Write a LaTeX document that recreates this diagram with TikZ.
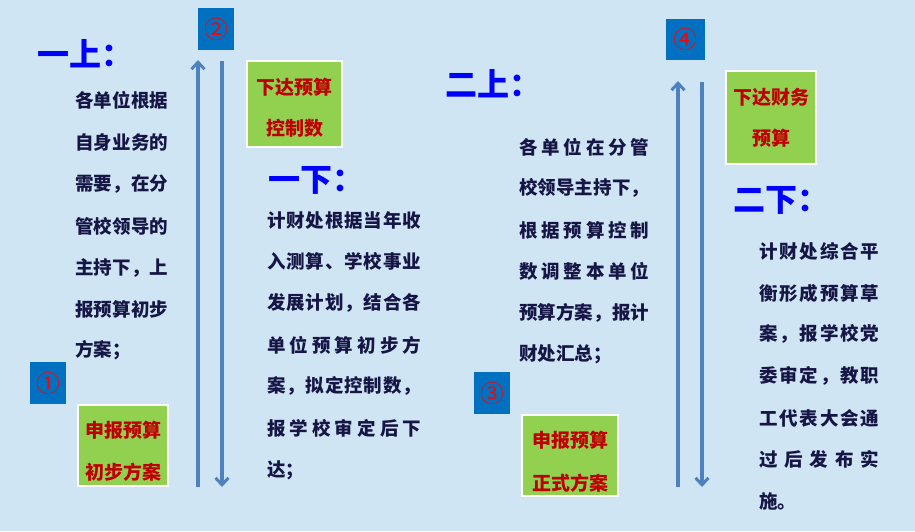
\documentclass[tikz,border=0pt]{standalone}
\usepackage{fontspec}
\newfontfamily\cjk{Noto Sans CJK SC}
\usetikzlibrary{arrows.meta}
\definecolor{bg}{RGB}{208,229,244}
\definecolor{numbox}{RGB}{0,112,192}
\definecolor{greenbox}{RGB}{146,208,80}
\definecolor{redtxt}{RGB}{192,0,0}
\definecolor{arrowc}{RGB}{79,129,189}
\definecolor{bodytxt}{RGB}{22,22,70}
\definecolor{headc}{RGB}{0,0,255}
\def\myjust#1#2{\hbox to #1{\myjustA#2\relax}}
\def\myjustA#1{#1\myjustB}
\def\myjustB#1{\ifx#1\relax\else\hfil#1\expandafter\myjustB\fi}
\tikzset{
  body/.style={anchor=west,inner sep=0pt,text=bodytxt,font=\cjk\bfseries\fontsize{18.5}{18.5}\selectfont},
  head/.style={anchor=west,inner sep=0pt,text=headc,font=\cjk\bfseries\fontsize{32}{32}\selectfont},
  numb/.style={fill=numbox,draw=none,inner sep=0pt,text=red,font=\cjk\fontsize{24}{24}\selectfont},
  gbox/.style={fill=greenbox,draw=white,line width=1.5pt,inner sep=0pt},
  gtxt/.style={inner sep=0pt,text=redtxt,font=\cjk\bfseries\fontsize{19}{19}\selectfont},
  arr/.style={draw=arrowc,line width=3.6pt,-{Straight Barb[length=7pt,width=13pt,line width=3pt]}},
}
\begin{document}
\begin{tikzpicture}[x=1pt,y=-1pt]
\fill[bg] (0,0) rectangle (915,531);
\useasboundingbox (0,0) rectangle (915,531);

% number boxes
\node[numb,minimum width=36pt,minimum height=42pt] (n2) at (216,29) {②};
\node[numb,minimum width=36pt,minimum height=42pt] (n1) at (48,383) {①};
\node[numb,minimum width=36pt,minimum height=42pt] (n3) at (492,393) {③};
\node[numb,minimum width=39pt,minimum height=41pt] (n4) at (685.5,39.5) {④};

% green boxes
\node[gbox,minimum width=95pt,minimum height=86pt] (gA) at (294.5,104) {};
\node[gtxt] (gA1) at (294.5,87) {下达预算};
\node[gtxt] (gA2) at (294.5,128) {控制数};
\node[gbox,minimum width=90pt,minimum height=81pt] (gB) at (123,445.5) {};
\node[gtxt] (gB1) at (123,430) {申报预算};
\node[gtxt] (gB2) at (123,472) {初步方案};
\node[gbox,minimum width=96pt,minimum height=81pt] (gC) at (570,455.5) {};
\node[gtxt] (gC1) at (570,440) {申报预算};
\node[gtxt] (gC2) at (570,483) {正式方案};
\node[gbox,minimum width=90pt,minimum height=93pt] (gD) at (771,117.5) {};
\node[gtxt] (gD1) at (771,97) {下达财务};
\node[gtxt] (gD2) at (771,138) {预算};

% arrows
\coordinate (a1b) at (198,487);
\coordinate (a1t) at (198,60);
\coordinate (a2t) at (222,61);
\coordinate (a2b) at (222,487);
\coordinate (a3b) at (678,487);
\coordinate (a3t) at (678,81);
\coordinate (a4t) at (702,82);
\coordinate (a4b) at (702,487);
\draw[arr] (a1b) -- (a1t);
\draw[arr] (a2t) -- (a2b);
\draw[arr] (a3b) -- (a3t);
\draw[arr] (a4t) -- (a4b);

% headings
\node[head] (h1) at (37,54) {一上：};
\node[head] (h2) at (268,180) {一下：};
\node[head] (h3) at (445,84) {二上：};
\node[head] (h4) at (733,200) {二下：};

% column 1
\node[body] (c1a) at (75,100) {\myjust{93pt}{各单位根据}};
\node[body] (c1b) at (75,142) {\myjust{93pt}{自身业务的}};
\node[body] (c1c) at (75,184) {\myjust{93pt}{需要，在分}};
\node[body] (c1d) at (75,226) {\myjust{93pt}{管校领导的}};
\node[body] (c1e) at (75,268) {\myjust{93pt}{主持下，上}};
\node[body] (c1f) at (75,309) {\myjust{93pt}{报预算初步}};
\node[body] (c1g) at (75,350) {方案；};

% column 2
\node[body] (c2a) at (267,220) {\myjust{154pt}{计财处根据当年收}};
\node[body] (c2b) at (267,261) {\myjust{154pt}{入测算、学校事业}};
\node[body] (c2c) at (267,303) {\myjust{154pt}{发展计划，结合各}};
\node[body] (c2d) at (267,345) {\myjust{154pt}{单位预算初步方}};
\node[body] (c2e) at (267,386) {\myjust{154pt}{案，拟定控制数，}};
\node[body] (c2f) at (267,428) {\myjust{154pt}{报学校审定后下}};
\node[body] (c2g) at (267,470) {达；};

% column 3
\node[body] (c3a) at (519,147) {\myjust{130pt}{各单位在分管}};
\node[body] (c3b) at (519,188) {\myjust{130pt}{校领导主持下，}};
\node[body] (c3c) at (519,230) {\myjust{130pt}{根据预算控制}};
\node[body] (c3d) at (519,271) {\myjust{130pt}{数调整本单位}};
\node[body] (c3e) at (519,313) {\myjust{130pt}{预算方案，报计}};
\node[body] (c3f) at (519,354) {财处汇总；};

% column 4
\node[body] (c4a) at (759,251) {\myjust{120pt}{计财处综合平}};
\node[body] (c4b) at (759,293) {\myjust{120pt}{衡形成预算草}};
\node[body] (c4c) at (759,334) {\myjust{120pt}{案，报学校党}};
\node[body] (c4d) at (759,376) {\myjust{120pt}{委审定，教职}};
\node[body] (c4e) at (759,418) {\myjust{120pt}{工代表大会通}};
\node[body] (c4f) at (759,459) {\myjust{120pt}{过后发布实}};
\node[body] (c4g) at (759,501) {施。};
\end{tikzpicture}
\end{document}
